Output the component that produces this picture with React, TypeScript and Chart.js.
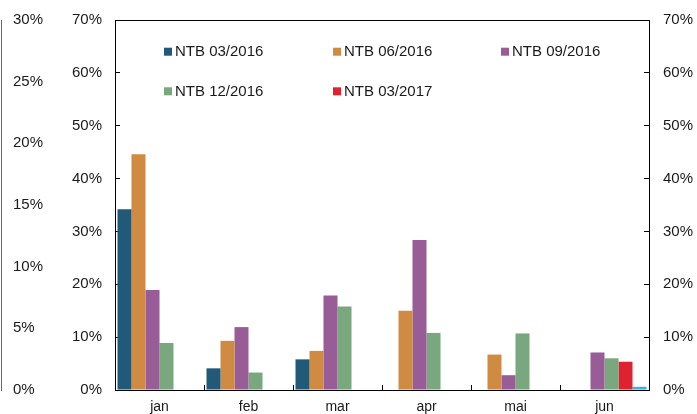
import React, { useEffect, useRef } from 'react';
import { Chart, registerables } from 'chart.js';

Chart.register(...registerables);

const categories = ['jan', 'feb', 'mar', 'apr', 'mai', 'jun'];
const seriesLabels = ['NTB 03/2016', 'NTB 06/2016', 'NTB 09/2016', 'NTB 12/2016', 'NTB 03/2017', 'NTB 06/2017'];
const ntb032016 = [34.2, 4.1, 5.8, null, null, null];
const ntb062016 = [44.6, 9.3, 7.4, 15.0, 6.7, null];
const ntb092016 = [18.9, 11.9, 17.9, 28.4, 2.8, 7.1];
const ntb122016 = [8.9, 3.3, 15.8, 10.8, 10.7, 6.0];
const ntb032017 = [null, null, null, null, null, 5.35];
const ntb062017 = [null, null, null, null, null, 0.6];
const seriesColors = ['#215A79', '#D08B42', '#985C97', '#79A77E', '#E02130', '#3DAEE0'];
const legendShown = [0, 1, 2, 3, 4];
const outerAxisMax = 30;
const outerAxisStep = 5;
const mainAxisMax = 70;
const mainAxisStep = 10;

const FONT = '"Liberation Sans", Arial, sans-serif';
const TEXT = '#1a1a1a';

const framePlugin = {
  id: 'frameAndLegend',
  afterDraw(chart: any) {
    const { ctx, chartArea: a } = chart;
    ctx.save();
    ctx.strokeStyle = '#000';
    ctx.lineWidth = 1;
    const ty = Math.round(a.top) + 0.5;
    ctx.beginPath();
    ctx.moveTo(a.left, ty);
    ctx.lineTo(a.right, ty);
    ctx.stroke();

    const cols = [49, 218, 386];
    const rows = [31.7, 71.3];
    ctx.font = '15px ' + FONT;
    ctx.textBaseline = 'middle';
    ctx.textAlign = 'left';
    legendShown.forEach((di, i) => {
      const ds = chart.data.datasets[di];
      const x = a.left + cols[i % 3];
      const y = a.top + rows[Math.floor(i / 3)];
      ctx.fillStyle = ds.backgroundColor;
      ctx.fillRect(x, y - 4, 8, 8);
      ctx.fillStyle = TEXT;
      ctx.fillText(ds.label, x + 11, y + 0.5);
    });
    ctx.restore();
  },
};

const noPad = (s: any) => {
  s.paddingTop = 0;
  s.paddingBottom = 0;
};

export default function App() {
  const ref = useRef<HTMLCanvasElement | null>(null);

  useEffect(() => {
    if (!ref.current) return;
    const values = [ntb032016, ntb062016, ntb092016, ntb122016, ntb032017, ntb062017];
    const chart = new Chart(ref.current, {
      type: 'bar',
      data: {
        labels: categories,
        datasets: values.map((v, i) => ({
          label: seriesLabels[i],
          data: v,
          backgroundColor: seriesColors[i],
          borderWidth: 0,
          yAxisID: 'y',
          categoryPercentage: 0.944,
          barPercentage: 1,
        })),
      },
      options: {
        animation: false,
        responsive: false,
        devicePixelRatio: 1,
        layout: { padding: { top: 20, right: 0, bottom: 0, left: 0 } },
        plugins: {
          legend: { display: false },
          tooltip: { enabled: false },
        },
        scales: {
          x: {
            type: 'category',
            position: 'bottom',
            offset: true,
            grid: {
              display: true,
              offset: true,
              drawOnChartArea: false,
              drawTicks: true,
              tickLength: -5,
              color: '#000',
            },
            border: { display: true, color: '#000', width: 1 },
            ticks: { color: TEXT, font: { family: FONT, size: 14 }, padding: 14, maxRotation: 0 },
            afterFit: (s: any) => {
              s.height = 24;
              s.paddingLeft = 0;
              s.paddingRight = 0;
            },
          },
          yOuter: {
            axis: 'y',
            type: 'linear',
            position: 'left',
            weight: 10,
            min: 0,
            max: outerAxisMax,
            grid: { display: false, drawTicks: false },
            border: { display: true, color: '#666', width: 1 },
            ticks: {
              stepSize: outerAxisStep,
              mirror: true,
              padding: 12,
              color: TEXT,
              font: { family: FONT, size: 15 },
              callback: (v: any) => v + '%',
            },
            afterFit: (s: any) => {
              s.width = 1;
              noPad(s);
            },
          },
          y: {
            type: 'linear',
            position: 'left',
            weight: 0,
            min: 0,
            max: mainAxisMax,
            grid: {
              display: true,
              drawOnChartArea: false,
              drawTicks: true,
              tickLength: -5,
              color: '#000',
            },
            border: { display: true, color: '#000', width: 1 },
            ticks: {
              stepSize: mainAxisStep,
              padding: 18,
              color: TEXT,
              font: { family: FONT, size: 15 },
              callback: (v: any) => v + '%',
            },
            afterFit: (s: any) => {
              s.width = 114;
              noPad(s);
            },
          },
          yRight: {
            axis: 'y',
            type: 'linear',
            position: 'right',
            min: 0,
            max: mainAxisMax,
            grid: {
              display: true,
              drawOnChartArea: false,
              drawTicks: true,
              tickLength: -5,
              color: '#000',
            },
            border: { display: true, color: '#000', width: 1 },
            ticks: {
              stepSize: mainAxisStep,
              padding: 19,
              color: TEXT,
              font: { family: FONT, size: 15 },
              callback: (v: any) => v + '%',
            },
            afterFit: (s: any) => {
              s.width = 48;
              noPad(s);
            },
          },
        },
      } as any,
      plugins: [framePlugin],
    });
    return () => chart.destroy();
  }, []);

  return (
    <div style={{ position: 'fixed', left: 0, top: 0, width: 697, height: 414, background: '#fff' }}>
      <canvas ref={ref} width={697} height={414} style={{ display: 'block', width: 697, height: 414 }} />
    </div>
  );
}
